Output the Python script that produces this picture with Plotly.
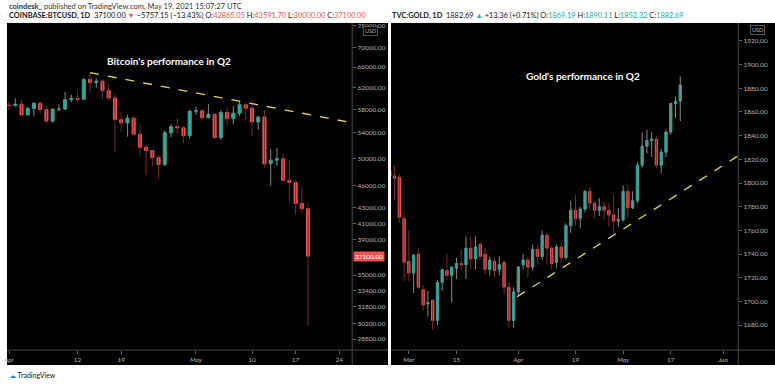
import plotly.graph_objects as go
import math

# ---------------- BTC (COINBASE:BTCUSD, 1D) ----------------
btc_dates = ["2021-04-%02d" % d for d in range(1, 31)] + ["2021-05-%02d" % d for d in range(1, 20)]
btc_open = [58740, 58730, 58960, 57060, 58200, 59130, 57990, 56000, 58080, 58100,
            59770, 59990, 59850, 63580, 62980, 63250, 61450, 60080, 56250, 55700,
            56500, 53800, 51700, 51180, 50100, 49050, 54020, 55050, 54850, 53550,
            57700, 57800, 56580, 57170, 53250, 57500, 56400, 57350, 58850, 58250,
            55850, 56700, 49150, 49700, 49900, 46750, 46450, 43550, 42865.05]
btc_high = [59460, 60040, 59800, 58500, 59250, 59480, 58650, 58150, 58850, 61200,
            60700, 61250, 63800, 64895, 63800, 63550, 62550, 61000, 57550, 57100,
            56800, 55400, 52100, 51200, 50500, 54400, 55450, 56400, 55200, 57950,
            58500, 57950, 58950, 57200, 57900, 58400, 58650, 59500, 59300, 59600,
            56900, 58000, 51400, 51550, 50650, 49750, 46600, 45800, 43591.70]
btc_low = [57950, 58500, 56900, 56950, 56800, 57350, 55450, 55700, 57650, 57900,
           59300, 59350, 59800, 61000, 62000, 60000, 59600, 51000, 54200, 53400,
           53600, 50400, 47500, 48800, 47000, 48800, 53300, 53900, 52350, 53050,
           57050, 56050, 56450, 53050, 52900, 55250, 55400, 56900, 56250, 53450,
           54500, 48600, 46000, 48850, 46600, 43800, 42100, 42300, 30000.00]
btc_close = [58730, 58960, 57060, 58200, 59130, 57990, 56000, 58080, 58100, 59770,
             59990, 59850, 63580, 62980, 63250, 61450, 60080, 56250, 55700, 56500,
             53800, 51700, 51180, 50100, 49050, 54020, 55050, 54850, 53550, 57700,
             57800, 56580, 57170, 53250, 57500, 56400, 57350, 58850, 58250, 55850,
             56700, 49150, 49700, 49900, 46750, 46450, 43550, 42865, 37100.00]
btc_price_ticks = [28800, 30200, 31800, 33400, 35000, 39000, 41000, 43000, 46000,
                   50000, 54000, 58000, 62000, 66000, 70000, 75000]
btc_time_ticks = ["2021-04-01", "2021-04-12", "2021-04-19", "2021-05-01", "2021-05-10", "2021-05-17", "2021-05-24"]
btc_time_labels = ["<i>Apr</i>", "12", "19", "<i>May</i>", "10", "17", "24"]
btc_trend_x = ["2021-04-14", "2021-05-26 02:00"]
btc_trend_y = [64900, 55700]

# ---------------- GOLD (TVC:GOLD, 1D) ----------------
gold_dates = ["2021-02-23", "2021-02-24", "2021-02-25", "2021-02-26",
              "2021-03-01", "2021-03-02", "2021-03-03", "2021-03-04", "2021-03-05",
              "2021-03-08", "2021-03-09", "2021-03-10", "2021-03-11", "2021-03-12",
              "2021-03-15", "2021-03-16", "2021-03-17", "2021-03-18", "2021-03-19",
              "2021-03-22", "2021-03-23", "2021-03-24", "2021-03-25", "2021-03-26",
              "2021-03-29", "2021-03-30", "2021-03-31", "2021-04-01", "2021-04-02",
              "2021-04-05", "2021-04-06", "2021-04-07", "2021-04-08", "2021-04-09",
              "2021-04-12", "2021-04-13", "2021-04-14", "2021-04-15", "2021-04-16",
              "2021-04-19", "2021-04-20", "2021-04-21", "2021-04-22", "2021-04-23",
              "2021-04-26", "2021-04-27", "2021-04-28", "2021-04-29", "2021-04-30",
              "2021-05-03", "2021-05-04", "2021-05-05", "2021-05-06", "2021-05-07",
              "2021-05-10", "2021-05-11", "2021-05-12", "2021-05-13", "2021-05-14",
              "2021-05-17", "2021-05-18", "2021-05-19"]
gold_open = [1810, 1806, 1805, 1770, 1734, 1724, 1740, 1710, 1698, 1701, 1684, 1716, 1726, 1722,
             1728, 1732, 1731, 1745, 1736, 1748, 1740, 1727, 1734, 1727, 1733, 1712, 1684,
             1708, 1731, 1735, 1729, 1744, 1738, 1756, 1745, 1733, 1746, 1737, 1764,
             1777, 1770, 1778, 1793, 1783, 1777, 1780, 1777, 1773, 1768,
             1769, 1793, 1779, 1785, 1815, 1831, 1836, 1837, 1815, 1826, 1843, 1867, 1869.19]
gold_high = [1816, 1815, 1808, 1775, 1760, 1740, 1745, 1714, 1709, 1702, 1718, 1727, 1740, 1729,
             1737, 1744, 1755, 1755, 1755, 1750, 1745, 1738, 1737, 1738, 1735, 1716, 1712,
             1730, 1740, 1738, 1748, 1748, 1760, 1758, 1747, 1748, 1750, 1766, 1785,
             1790, 1780, 1794, 1797, 1785, 1787, 1784, 1783, 1790, 1779,
             1798, 1799, 1793, 1818, 1843, 1845, 1843, 1840, 1829, 1845, 1868, 1873, 1890.11]
gold_low = [1800, 1785, 1766, 1717, 1717, 1707, 1711, 1692, 1687, 1676, 1680, 1709, 1718, 1699,
            1719, 1726, 1719, 1727, 1727, 1735, 1723, 1722, 1720, 1722, 1706, 1677, 1678,
            1704, 1727, 1720, 1726, 1731, 1735, 1731, 1727, 1728, 1733, 1735, 1758,
            1764, 1762, 1775, 1777, 1770, 1772, 1769, 1763, 1757, 1763,
            1767, 1771, 1778, 1783, 1813, 1825, 1822, 1813, 1808, 1822, 1841, 1855, 1852.32]
gold_close = [1806, 1804, 1771, 1733, 1724, 1739, 1712, 1697, 1699, 1684, 1716, 1727, 1722, 1729,
              1732, 1731, 1745, 1736, 1746, 1738, 1727, 1735, 1726, 1731, 1712, 1684, 1708,
              1729, 1735, 1729, 1744, 1738, 1756, 1745, 1732, 1746, 1737, 1764, 1777,
              1770, 1778, 1793, 1783, 1777, 1780, 1777, 1773, 1768, 1769,
              1793, 1779, 1785, 1815, 1831, 1836, 1837, 1815, 1826, 1843, 1867, 1869, 1882.69]
gold_price_ticks = [1680, 1700, 1720, 1740, 1760, 1780, 1800, 1820, 1840, 1860, 1880, 1900, 1920]
gold_time_ticks = ["2021-03-01", "2021-03-15", "2021-04-01", "2021-04-19", "2021-05-03", "2021-05-17", "2021-06-01"]
gold_time_labels = ["<i>Mar</i>", "15", "<i>Apr</i>", "19", "<i>May</i>", "17", "<i>Jun</i>"]
gold_trend_x = ["2021-04-01 06:00", "2021-06-04 16:00"]
gold_trend_y = [1704, 1823]

# ---------------- styling ----------------
W, H = 775, 384
UP, DN = "#26a69a", "#ef5350"
UP_WICK, DN_WICK = "#7f8c8a", "#7a2a2a"
AXC = "#b2b5be"
SEP = "#4a4a4a"
FONT = "Lato"

def px_x(p):
    return p / W

def px_y(p):
    return 1 - p / H

fig = go.Figure()

def add_candles(dates, o, h, l, c, xa, ya, shift=""):
    xs = [d + shift for d in dates]
    for up, col in ((True, UP_WICK), (False, DN_WICK)):
        wx, wy = [], []
        for x, oo, hh, ll, cc in zip(xs, o, h, l, c):
            if (cc >= oo) == up:
                wx += [x, x, None]
                wy += [ll, hh, None]
        fig.add_trace(go.Scatter(x=wx, y=wy, mode="lines", line=dict(color=col, width=1),
                                 xaxis=xa, yaxis=ya, hoverinfo="skip", showlegend=False))
    fig.add_trace(go.Candlestick(
        x=xs, open=o, close=c,
        high=[max(a, b) for a, b in zip(o, c)], low=[min(a, b) for a, b in zip(o, c)],
        increasing=dict(line=dict(color=UP, width=1), fillcolor=UP),
        decreasing=dict(line=dict(color=DN, width=1), fillcolor=DN),
        whiskerwidth=0, xaxis=xa, yaxis=ya, hoverinfo="skip", showlegend=False))

add_candles(btc_dates, btc_open, btc_high, btc_low, btc_close, "x", "y")
add_candles(gold_dates, gold_open, gold_high, gold_low, gold_close, "x2", "y2", " 12:00")

fig.add_trace(go.Scatter(x=btc_trend_x, y=btc_trend_y, mode="lines",
                         line=dict(color="#e6d84a", width=1.3, dash="dash"),
                         xaxis="x", yaxis="y", hoverinfo="skip", showlegend=False))
fig.add_trace(go.Scatter(x=gold_trend_x, y=gold_trend_y, mode="lines",
                         line=dict(color="#e6d84a", width=1.3, dash="dash"),
                         xaxis="x2", yaxis="y2", hoverinfo="skip", showlegend=False))

ydom = [px_y(350), px_y(22)]
tickfont = dict(family=FONT, size=6.5, color=AXC)
common_x = dict(type="date", showgrid=False, zeroline=False, showline=False, ticks="outside",
                ticklen=3, tickcolor="#666", tickfont=tickfont, rangeslider=dict(visible=False),
                fixedrange=True, ticklabeloverflow="allow")
common_y = dict(showgrid=False, zeroline=False, showline=False, ticks="outside", side="right",
                ticklen=3, tickcolor="#666", tickfont=tickfont, fixedrange=True)

fig.update_layout(
    width=W, height=H, margin=dict(l=0, r=0, t=0, b=0),
    paper_bgcolor="white", plot_bgcolor="black", showlegend=False,
    xaxis=dict(common_x, domain=[px_x(3), px_x(350)], anchor="y",
               range=["2021-03-31 16:00", "2021-05-26 02:00"],
               tickvals=btc_time_ticks, ticktext=btc_time_labels),
    yaxis=dict(common_y, domain=ydom, anchor="x", type="log",
               range=[4.4449, 4.8781], tickvals=btc_price_ticks,
               ticktext=["%.2f" % v for v in btc_price_ticks]),
    xaxis2=dict(common_x, domain=[px_x(389), px_x(738)], anchor="y2",
                range=["2021-02-23 18:00", "2021-06-04 16:00"],
                rangebreaks=[dict(bounds=["sat", "mon"])],
                tickvals=[d + " 12:00" for d in gold_time_ticks], ticktext=gold_time_labels),
    yaxis2=dict(common_y, domain=ydom, anchor="x2", type="linear",
                range=[1658.9, 1935.2], tickvals=gold_price_ticks,
                ticktext=["%.2f" % v for v in gold_price_ticks]),
)

# panel backgrounds and separators
shapes = []
for x0, x1 in ((3, 386), (389, 775)):
    shapes.append(dict(type="rect", xref="paper", yref="paper", x0=px_x(x0), x1=px_x(x1),
                       y0=px_y(365), y1=px_y(22), fillcolor="black", line=dict(width=0), layer="below"))
for xs in (350, 738):
    shapes.append(dict(type="line", xref="paper", yref="paper", x0=px_x(xs), x1=px_x(xs),
                       y0=px_y(365), y1=px_y(22), line=dict(color=SEP, width=1)))
for x0, x1 in ((3, 386), (389, 775)):
    shapes.append(dict(type="line", xref="paper", yref="paper", x0=px_x(x0), x1=px_x(x1),
                       y0=px_y(350), y1=px_y(350), line=dict(color=SEP, width=1)))
fig.update_layout(shapes=shapes)

R = DN
G = UP
ann = [
    dict(text="<b>coindesk_</b> published on TradingView.com, May 19, 2021 15:07:27 UTC",
         x=px_x(3), y=px_y(6), xanchor="left", yanchor="middle",
         font=dict(family=FONT, size=7.5, color="#333")),
    dict(text=("<b>COINBASE:BTCUSD, 1D</b>  37100.00 <span style='color:%s'>▼</span> −5757.15 (−13.43%%) "
               "O:<span style='color:%s'>42865.05</span> H:<span style='color:%s'>43591.70</span> "
               "L:<span style='color:%s'>30000.00</span> C:<span style='color:%s'>37100.00</span>") % (R, R, R, R, R),
         x=px_x(3), y=px_y(15), xanchor="left", yanchor="middle",
         font=dict(family=FONT, size=7.4, color="#131722")),
    dict(text=("<b>TVC:GOLD, 1D</b>  1882.69 <span style='color:%s'>▲</span> +13.36 (+0.71%%) "
               "O:<span style='color:%s'>1869.19</span> H:<span style='color:%s'>1890.11</span> "
               "L:<span style='color:%s'>1852.32</span> C:<span style='color:%s'>1882.69</span>") % (G, G, G, G, G),
         x=px_x(388), y=px_y(15), xanchor="left", yanchor="middle",
         font=dict(family=FONT, size=7.4, color="#131722")),
    dict(text="<b>Bitcoin's performance in Q2</b>", x=px_x(166), y=px_y(60), xanchor="center", yanchor="middle",
         font=dict(family=FONT, size=10, color="white")),
    dict(text="<b>Gold's performance in Q2</b>", x=px_x(582), y=px_y(75), xanchor="center", yanchor="middle",
         font=dict(family=FONT, size=10, color="white")),
    dict(text="37100.00", xref="paper", yref="y", x=px_x(351), y=math.log10(37100),
         xanchor="left", yanchor="middle", bgcolor=R, borderpad=1,
         font=dict(family=FONT, size=6.5, color="white")),
    dict(text="USD", x=px_x(368), y=px_y(30), xanchor="center", yanchor="middle",
         bgcolor="black", bordercolor="#555", borderwidth=1, borderpad=1,
         font=dict(family=FONT, size=5.5, color=AXC)),
    dict(text="USD", x=px_x(757), y=px_y(29), xanchor="center", yanchor="middle",
         bgcolor="black", bordercolor="#555", borderwidth=1, borderpad=1,
         font=dict(family=FONT, size=5.5, color=AXC)),
    dict(text="<span style='color:#2196f3'>☁</span> TradingView", x=px_x(3), y=px_y(375),
         xanchor="left", yanchor="middle", font=dict(family=FONT, size=7, color="#131722")),
]
for a in ann:
    a.setdefault("xref", "paper")
    a.setdefault("yref", "paper")
    a["showarrow"] = False
fig.update_layout(annotations=ann)

fig.write_html("out.html", config={"displayModeBar": False},
               post_script="document.body.style.margin='0';document.body.style.padding='0';"
                           "document.documentElement.style.overflow='hidden';")
